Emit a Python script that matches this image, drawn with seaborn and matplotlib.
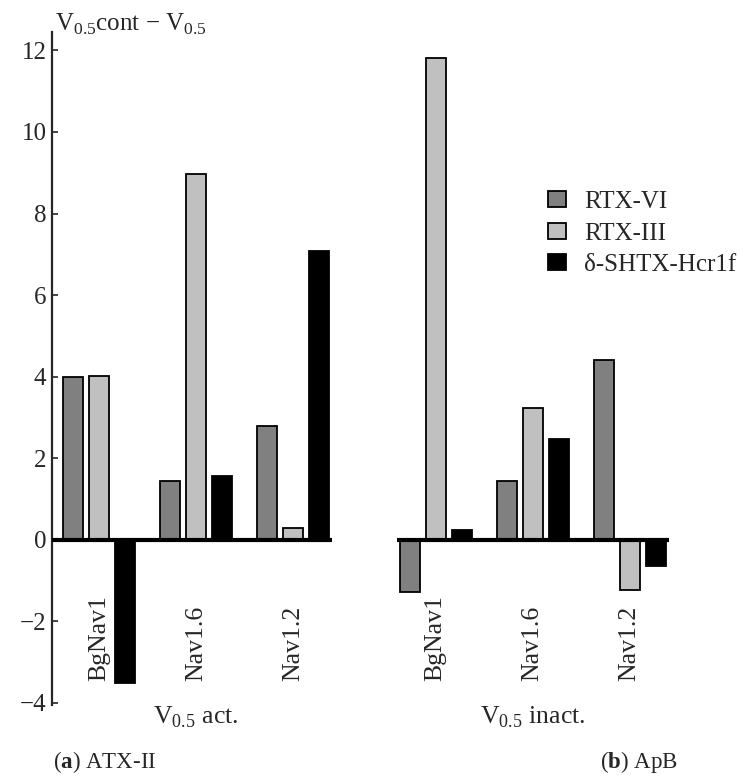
import numpy as np
import pandas as pd
import matplotlib
matplotlib.use('Agg')
import matplotlib.pyplot as plt
import seaborn as sns

# values (V0.5 cont - V0.5)
channels = ['BgNav1', 'Nav1.6', 'Nav1.2']
toxins = ['RTX-VI', 'RTX-III', 'δ-SHTX-Hcr1f']
act_rtx6 = [4.0, 1.43, 2.8]
act_rtx3 = [4.02, 8.96, 0.3]
act_shtx = [-3.52, 1.57, 7.09]
inact_rtx6 = [-1.27, 1.45, 4.42]
inact_rtx3 = [11.82, 3.22, -1.22]
inact_shtx = [0.24, 2.48, -0.65]
yticks = [-4, -2, 0, 2, 4, 6, 8, 10, 12]

# x centres of the channel groups (second block shifted to leave a gap)
act_pos = [0.0, 1.0, 2.0]
inact_pos = [3.47, 4.47, 5.47]

rows = []
for pos, vals in [(act_pos, [act_rtx6, act_rtx3, act_shtx]),
                  (inact_pos, [inact_rtx6, inact_rtx3, inact_shtx])]:
    for t, series in zip(toxins, vals):
        for p, ch, v in zip(pos, channels, series):
            rows.append({'pos': p, 'channel': ch, 'toxin': t, 'value': v})
df = pd.DataFrame(rows)

sns.set_style('ticks')
plt.rcParams['font.family'] = ['Liberation Serif', 'DejaVu Serif']
plt.rcParams['mathtext.fontset'] = 'custom'
plt.rcParams['mathtext.rm'] = 'Liberation Serif'
plt.rcParams['mathtext.bf'] = 'Liberation Serif:bold'

fig = plt.figure(figsize=(7.46, 7.78), dpi=100)
W, H = 746, 778
ax = fig.add_axes([52 / W, 1 - 705 / H, (720 - 52) / W, (705 - 32) / H])

palette = {'RTX-VI': '#808080', 'RTX-III': '#c0c0c0', 'δ-SHTX-Hcr1f': '#000000'}
sns.barplot(data=df, x='pos', y='value', hue='toxin', hue_order=toxins,
            native_scale=True, palette=palette, edgecolor='black',
            linewidth=1.3, gap=0.22, errorbar=None, ax=ax)

xmin = -0.485
ax.set_xlim(xmin, 6.4)
ax.set_ylim(-4.05, 12.45)
ax.set_yticks(yticks)
ax.set_yticklabels([f'{t:d}'.replace('-', '\u2212') for t in yticks], fontsize=18)
ax.tick_params(axis='y', direction='in', length=4, width=1.2, pad=4)
ax.set_xticks([])
ax.set_xlabel('')
ax.set_ylabel('')
for s in ['top', 'right', 'bottom']:
    ax.spines[s].set_visible(False)
ax.spines['left'].set_linewidth(1.6)

# thick zero lines under each block
ax.hlines(0, xmin, act_pos[-1] + 0.4, color='black', lw=3, zorder=5)
ax.hlines(0, inact_pos[0] - 0.4, inact_pos[-1] + 0.4, color='black', lw=3, zorder=5)

# rotated channel labels
for p, ch in zip(act_pos + inact_pos, channels + channels):
    ax.text(p, -3.47, ch, rotation=90, ha='center', va='bottom', fontsize=18.5)

ax.text(act_pos[1], -4.35, r'V$_{0.5}$ act.', ha='center', va='center',
        fontsize=18.5, clip_on=False)
ax.text(inact_pos[1], -4.35, r'V$_{0.5}$ inact.', ha='center', va='center',
        fontsize=18.5, clip_on=False)

fig.text(55 / W, 1 - 24 / H, r'V$_{0.5}$cont $-$ V$_{0.5}$', ha='left',
         va='center', fontsize=18)
fig.text(53 / W, 1 - 762 / H, r'($\mathbf{a}$) ATX-II', ha='left',
         va='center', fontsize=16.5)
fig.text(600 / W, 1 - 762 / H, r'($\mathbf{b}$) ApB', ha='left',
         va='center', fontsize=16.5)

leg = ax.legend(loc='upper left', bbox_to_anchor=(548 / W, 1 - 191 / H),
                bbox_transform=fig.transFigure, frameon=False, fontsize=18,
                handlelength=0.7, handleheight=0.6, handletextpad=0.75,
                labelspacing=0.38, borderpad=0, borderaxespad=0)

fig.savefig('out.png', dpi=100)
